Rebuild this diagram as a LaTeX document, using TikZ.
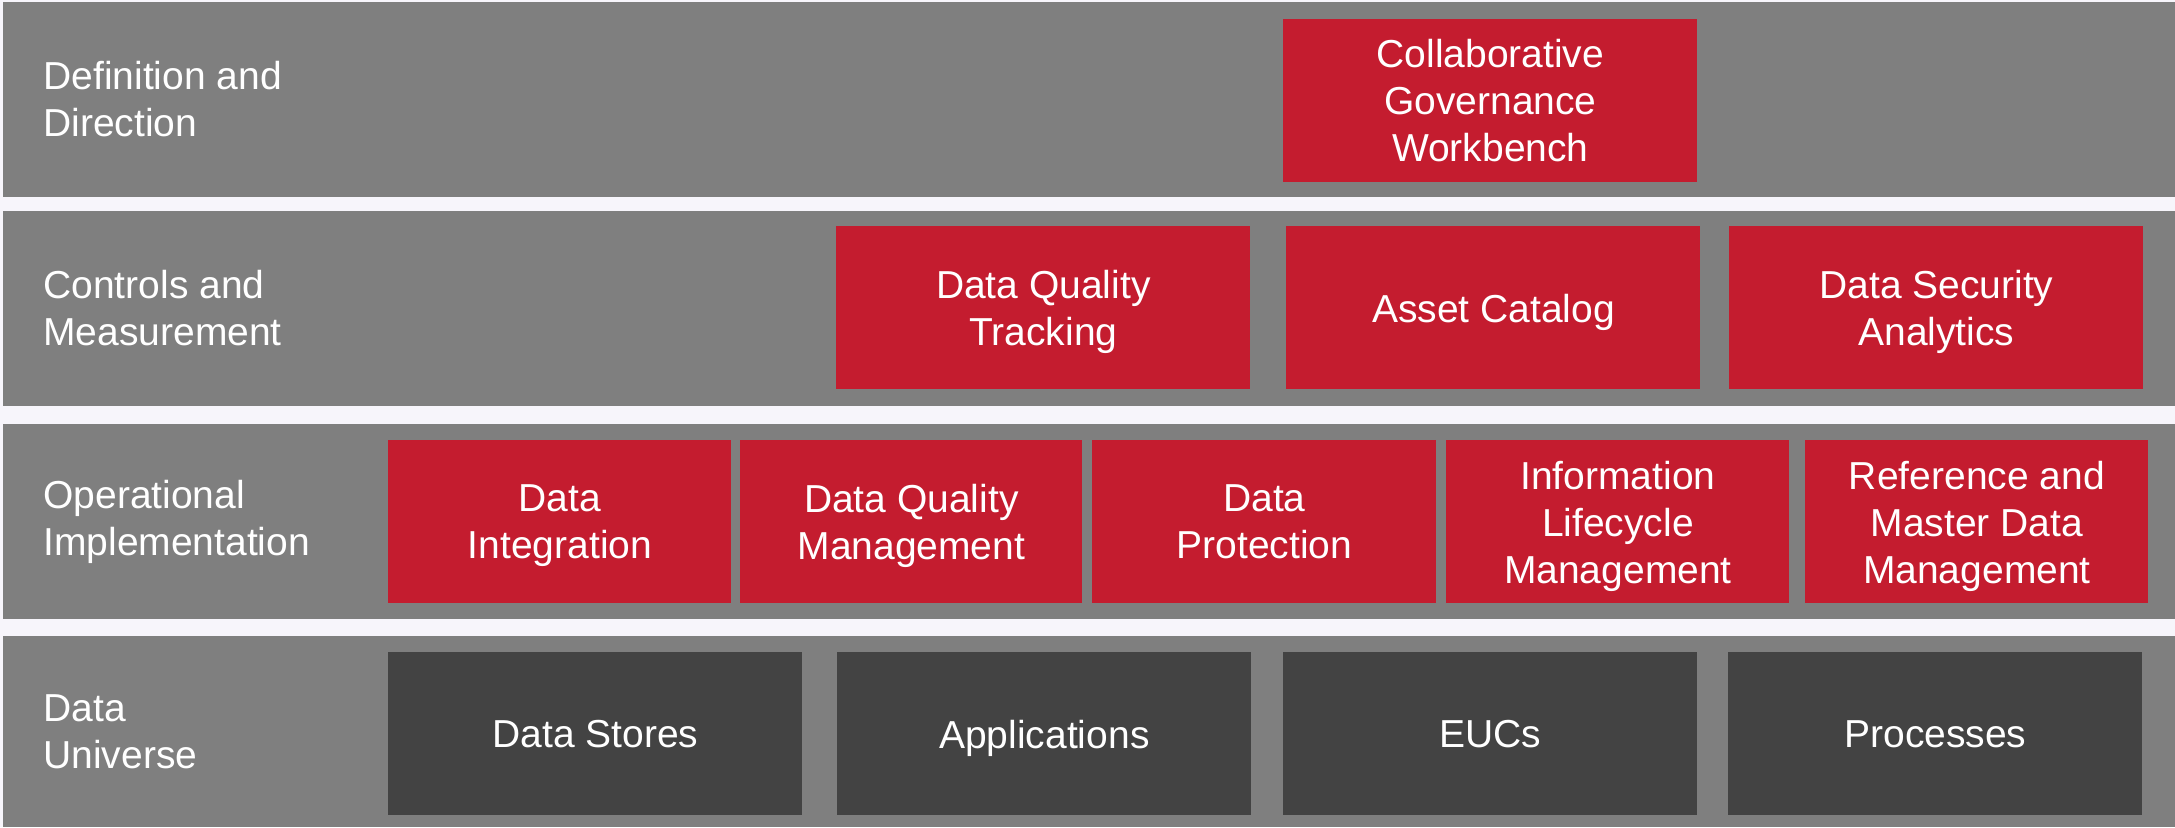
\documentclass[tikz,border=0pt]{standalone}
\usepackage{fontspec}
\setmainfont{Liberation Sans}
\definecolor{bandgray}{HTML}{7F7F7F}
\definecolor{boxred}{HTML}{C41C2F}
\definecolor{boxdark}{HTML}{434343}
\definecolor{bgpale}{HTML}{F7F5FB}
\newcommand{\nodesc}[1]{\raisebox{0pt}[\height][0pt]{#1}}
\tikzset{
  txt/.style={font=\fontsize{19.5pt}{23.5pt}\selectfont, text=white},
  lbl/.style={txt, align=left, anchor=west, inner sep=0pt},
  band/.style={fill=bandgray, draw=none, inner sep=0pt, anchor=north west, minimum width=1086pt},
  tile/.style={draw=none, inner sep=0pt, anchor=north west, minimum height=81.5pt, txt, align=center},
  redbox/.style={tile, fill=boxred},
  darkbox/.style={tile, fill=boxdark}
}
\begin{document}
\begin{tikzpicture}[x=0.5pt,y=-0.5pt]
\useasboundingbox (0,0) rectangle (2175,827);
\fill[bgpale] (0,0) rectangle (2175,827);
% bands
\node[band, minimum height=97.5pt] (b1) at (3,2) {};
\node[band, minimum height=97.5pt] (b2) at (3,211) {};
\node[band, minimum height=97.5pt] (b3) at (3,424) {};
\node[band, minimum height=95.5pt] (b4) at (3,636) {};
% band labels
\node[lbl] (l1) at (43,99.5) {Definition and\\Direction};
\node[lbl] (l2) at (43,308.5) {Controls and\\Measurement};
\node[lbl] (l3) at (43,521.5) {Operational\\Implementation};
\node[lbl] (l4) at (43,731.5) {Data\\Universe};
% row 1
\node[redbox, minimum width=207pt] (cgw) at (1283,19) {Collaborative\\Governance\\Workbench};
% row 2
\node[redbox, minimum width=207pt] (dqt) at (836,226) {Data Quality\\\nodesc{Tracking}};
\node[redbox, minimum width=207pt] (ac) at (1286,226) {\nodesc{Asset Catalog}};
\node[redbox, minimum width=207pt] (dsa) at (1729,226) {Data Security\\\nodesc{Analytics}};
% row 3
\node[redbox, minimum width=171.5pt] (di) at (388,440) {Data\\\nodesc{Integration}};
\node[redbox, minimum width=171pt] (dqm) at (740,440) {Data Quality\\\nodesc{Management}};
\node[redbox, minimum width=172pt] (dp) at (1092,440) {Data\\Protection};
\node[redbox, minimum width=171.5pt] (ilm) at (1446,440) {Information\\Lifecycle\\\nodesc{Management}};
\node[redbox, minimum width=171.5pt] (rmdm) at (1805,440) {Reference and\\Master Data\\\nodesc{Management}};
% row 4
\node[darkbox, minimum width=207pt] (ds) at (388,652) {Data Stores};
\node[darkbox, minimum width=207pt] (apps) at (837,652) {\nodesc{Applications}};
\node[darkbox, minimum width=207pt] (eucs) at (1283,652) {EUCs};
\node[darkbox, minimum width=207pt] (proc) at (1728,652) {Processes};
\end{tikzpicture}
\end{document}
